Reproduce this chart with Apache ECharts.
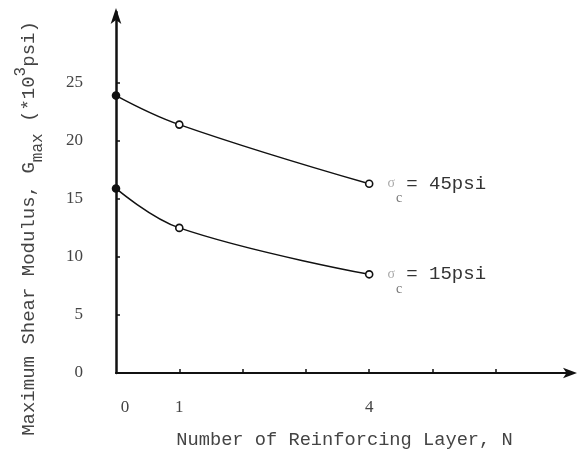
<!DOCTYPE html>
<html>
<head>
<meta charset="utf-8">
<script src="https://cdn.jsdelivr.net/npm/echarts@6/dist/echarts.min.js"></script>
<style>html,body{margin:0;padding:0;background:#fff;}#c{width:577px;height:456px;}</style>
</head>
<body>
<div id="c"></div>
<script>
var layersN = [0, 1, 4];
var g45 = [23.9, 21.4, 16.3];
var g15 = [15.9, 12.5, 8.5];
var yTicks = [0, 5, 10, 15, 20, 25];
var xTicks = [1, 2, 3, 4, 5, 6];
var xLabels = [0, 1, 4];
var seriesNames = ['45psi', '15psi'];

var chart = echarts.init(document.getElementById('c'), null, {renderer: 'canvas'});
var font = 'Liberation Serif';
var mono = 'Liberation Mono';
function mkData(vals) {
  return layersN.map(function (n, i) {
    var d = {value: [n, vals[i]]};
    if (i === 0) d.itemStyle = {color: '#111', borderColor: '#111'};
    return d;
  });
}
function mkSeries(vals, name) {
  var d = mkData(vals);
  d[d.length - 1].label = {
    show: true, position: 'right', distance: 14,
    formatter: '{s|σ}{sub|c}{t|= ' + name + '}',
    rich: {
      s: {fontFamily: font, fontSize: 14, color: '#aaa'},
      sub: {fontFamily: font, fontSize: 14, color: '#777', padding: [30, 0, 0, 1]},
      t: {fontFamily: mono, fontSize: 19, color: '#333', padding: [0, 0, 0, 4]}
    }
  };
  return {
    type: 'line', name: name, data: d, smooth: 0.4,
    symbol: 'circle', symbolSize: 7,
    lineStyle: {color: '#111', width: 1.5},
    itemStyle: {color: '#fff', borderColor: '#111', borderWidth: 1.6},
    z: 3
  };
}
chart.setOption({
  animation: false,
  backgroundColor: '#fff',
  grid: {left: 116, right: 4, top: 12, bottom: 83, outerBoundsMode: 'none', containLabel: false},
  xAxis: {
    type: 'value', min: 0, max: 7.22,
    name: 'Number of Reinforcing Layer, N',
    nameLocation: 'middle', nameGap: 58,
    nameTextStyle: {fontFamily: mono, fontSize: 18.7, color: '#444'},
    axisLine: {lineStyle: {color: '#111', width: 2.2}, symbol: ['none', 'arrow'], symbolSize: [8, 14], symbolOffset: [0, 4]},
    axisTick: {show: true, inside: true, length: 4, lineStyle: {color: '#111', width: 1.5}, customValues: xTicks},
    axisLabel: {
      customValues: xLabels, margin: 26, fontFamily: font, fontSize: 17, color: '#444',
      formatter: function (v) { return v === 0 ? '{z|0}' : String(v); },
      rich: {z: {fontFamily: font, fontSize: 17, color: '#444', padding: [0, 0, 0, 18]}}
    },
    splitLine: {show: false}
  },
  yAxis: {
    type: 'value', min: 0, max: 31.1,
    name: '{n|Maximum Shear Modulus, G}{sub|max}{n| (*10}{sup|3}{n|psi)}',
    nameLocation: 'middle', nameGap: 70, nameRotate: 90,
    nameTextStyle: {
      padding: [0, 72, 0, 0],
      rich: {
        n: {fontFamily: mono, fontSize: 19, color: '#444'},
        sub: {fontFamily: mono, fontSize: 16, color: '#444', padding: [18, 0, 0, 0]},
        sup: {fontFamily: mono, fontSize: 16, color: '#444', padding: [0, 0, 16, 0]}
      }
    },
    axisLine: {lineStyle: {color: '#111', width: 2.5}, symbol: ['none', 'arrow'], symbolSize: [8, 16], symbolOffset: [0, 4]},
    axisTick: {show: true, inside: true, length: 4, lineStyle: {color: '#111', width: 1.5}, customValues: yTicks},
    axisLabel: {customValues: yTicks, margin: 33, fontFamily: font, fontSize: 17, color: '#444'},
    splitLine: {show: false}
  },
  series: [mkSeries(g45, seriesNames[0]), mkSeries(g15, seriesNames[1])]
});
</script>
</body>
</html>
